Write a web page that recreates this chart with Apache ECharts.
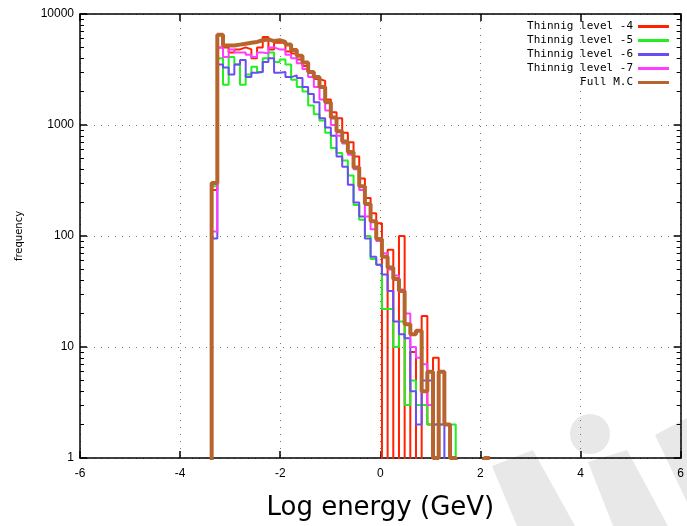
<!DOCTYPE html>
<html><head><meta charset="utf-8">
<script src="https://cdn.jsdelivr.net/npm/echarts@6/dist/echarts.min.js"></script>
<style>html,body{margin:0;padding:0;background:#fff}#c{width:687px;height:526px}</style>
</head><body><div id="c"></div>
<script>
// histogram bins (log energy)
const binStart = -3.37;
const binWidth = 0.1134;
const seriesNames = ['Thinnig level -4','Thinnig level -5','Thinnig level -6','Thinnig level -7','Full M.C'];
const level4 = [260,5000,5000,4500,4800,5000,4800,4000,5000,6200,4800,5500,5500,4600,4400,3900,3400,3000,2600,2500,1700,1300,1150,850,700,520,330,220,160,130,0,75,0,100,0,9,0,19,2,8,0,0,0,0,0,0,0,0,0];
const level5 = [280,4000,2300,4100,3500,2300,2850,3350,3000,4000,4500,3700,3900,3500,2550,2200,2000,1500,1250,1100,850,620,560,480,350,190,140,100,62,55,22,22,10,17,3,5,3,3,2,2,2,2,2,0,0,0,0,0,0];
const level6 = [95,3500,3300,2850,3500,3850,2700,2950,3000,3700,4000,2950,3000,2700,2800,2650,2200,1900,1600,1150,950,800,520,420,290,200,150,95,65,55,45,32,17,13,12,4,2,5,5,2,2,0,0,0,0,0,0,0,0];
const level7 = [110,5000,4100,4800,4500,4500,4300,4100,4500,4400,5000,4800,4800,4300,4000,3600,3200,2700,2200,1700,1350,1000,800,680,540,400,260,150,115,90,70,50,44,33,20,10,8,7,3,0,0,0,0,0,0,0,0,0,0];
const fullMC = [300,6500,5200,5200,5300,5400,5500,5600,5800,5900,5700,5800,5600,5300,4750,4200,3650,3000,2700,2200,1600,1170,880,710,570,415,280,194,136,94,65,52,41,32,16,13,14,4,6,1,6,2,1,0,0,0,0,0,1];
const xTicks = [-6,-4,-2,0,2,4,6];
const yTicks = [1,10,100,1000,10000];
const yMinorTicks = [2,3,4,5,6,7,8,9,20,30,40,50,60,70,80,90,200,300,400,500,600,700,800,900,2000,3000,4000,5000,6000,7000,8000,9000];

const colors = ['#ff2200','#22ee22','#6a4cf5','#ff3cff','#b8642e'];
const widths = [2,2,2,2,4];
const allData = [level4, level5, level6, level7, fullMC];
const EMPTY = 0.1; // zero counts drawn below the log axis floor (clipped)

function toSteps(vals){
  const pts = [[binStart, EMPTY]];
  vals.forEach((v,i)=>pts.push([binStart + i*binWidth, v>0?v:EMPTY]));
  const last = vals[vals.length-1];
  pts.push([binStart + vals.length*binWidth, last>0?last:EMPTY]);
  return pts;
}

const chart = echarts.init(document.getElementById('c'), null, {renderer:'canvas'});
const axisLineStyle = {color:'#000', width:1.5};
const gridDots = {show:true, lineStyle:{color:'#777', type:[1,6], width:1}};
const labelFont = {color:'#000', fontSize:12, fontFamily:'Liberation Sans, Arial, sans-serif'};

chart.setOption({
  animation:false,
  backgroundColor:'#fff',
  grid:{left:80, right:4, top:14, bottom:66, containLabel:false},
  legend:{
    orient:'vertical', right:13, top:16, align:'right',
    icon:'rect', itemGap:3, itemWidth:31, itemHeight:3,
    textStyle:{fontFamily:'DejaVu Sans Mono, monospace', fontSize:11, color:'#000', padding:[0,0,0,0]},
    data:seriesNames
  },
  xAxis:[
    {type:'value', min:-6, max:6, interval:2, position:'bottom',
     axisLine:{show:true, onZero:false, lineStyle:axisLineStyle},
     axisTick:{show:true, inside:true, length:7, lineStyle:{color:'#000', width:1.5}},
     axisLabel:Object.assign({margin:10, formatter:v=>String(v), customValues:xTicks}, labelFont),
     splitLine:gridDots,
     name:'Log energy (GeV)', nameLocation:'middle', nameGap:37,
     nameTextStyle:{fontSize:26, color:'#000', fontFamily:'DejaVu Sans, sans-serif'}},
    {type:'value', min:-6, max:6, interval:2, position:'top',
     axisLine:{show:true, onZero:false, lineStyle:axisLineStyle},
     axisTick:{show:true, inside:true, length:7, lineStyle:{color:'#000', width:1.5}},
     axisLabel:{show:false}, splitLine:{show:false}}
  ],
  yAxis:[
    {type:'log', logBase:10, min:1, max:10000, position:'left',
     axisLine:{show:true, onZero:false, lineStyle:axisLineStyle},
     axisTick:{show:true, inside:true, length:7, lineStyle:{color:'#000', width:1.5}},
     axisLabel:Object.assign({margin:6, formatter:v=>String(Math.round(v))}, labelFont),
     splitLine:gridDots,
     name:'frequency', nameLocation:'middle', nameGap:56, nameRotate:90,
     nameTextStyle:{fontSize:10, color:'#000', fontFamily:'DejaVu Sans, sans-serif'}},
    {type:'log', logBase:10, min:1, max:10000, position:'right',
     axisLine:{show:true, onZero:false, lineStyle:axisLineStyle},
     axisTick:{show:true, inside:true, length:7, lineStyle:{color:'#000', width:1.5}},
     axisLabel:{show:false}, splitLine:{show:false}},
    {type:'log', logBase:10, min:1, max:10000, position:'left',
     axisLine:{show:false, onZero:false},
     axisTick:{show:true, inside:true, length:4, customValues:yMinorTicks, lineStyle:{color:'#000', width:1}},
     axisLabel:{show:false}, splitLine:{show:false}},
    {type:'log', logBase:10, min:1, max:10000, position:'right',
     axisLine:{show:false, onZero:false},
     axisTick:{show:true, inside:true, length:4, customValues:yMinorTicks, lineStyle:{color:'#000', width:1}},
     axisLabel:{show:false}, splitLine:{show:false}}
  ],
  graphic:{elements:[
    {type:'polygon', z:-1, shape:{points:[[492,466],[533,450],[575,526],[517,526]]}, style:{fill:'#e8e8e8'}},
    {type:'polygon', z:-1, shape:{points:[[588,462],[627,450],[668,526],[613,526]]}, style:{fill:'#e8e8e8'}},
    {type:'polygon', z:-1, shape:{points:[[655,435],[687,418],[687,502]]}, style:{fill:'#e8e8e8'}},
    {type:'circle', z:-1, shape:{cx:590, cy:434, r:20}, style:{fill:'#e8e8e8'}}
  ]},
  series: seriesNames.map((n,i)=>({
    name:n, type:'line', step:'end', xAxisIndex:0, yAxisIndex:0,
    data:toSteps(allData[i]), showSymbol:false, symbol:'none', clip:true,
    color:colors[i],
    lineStyle:{color:colors[i], width:widths[i]},
    z:2+i
  }))
});
</script></body></html>
